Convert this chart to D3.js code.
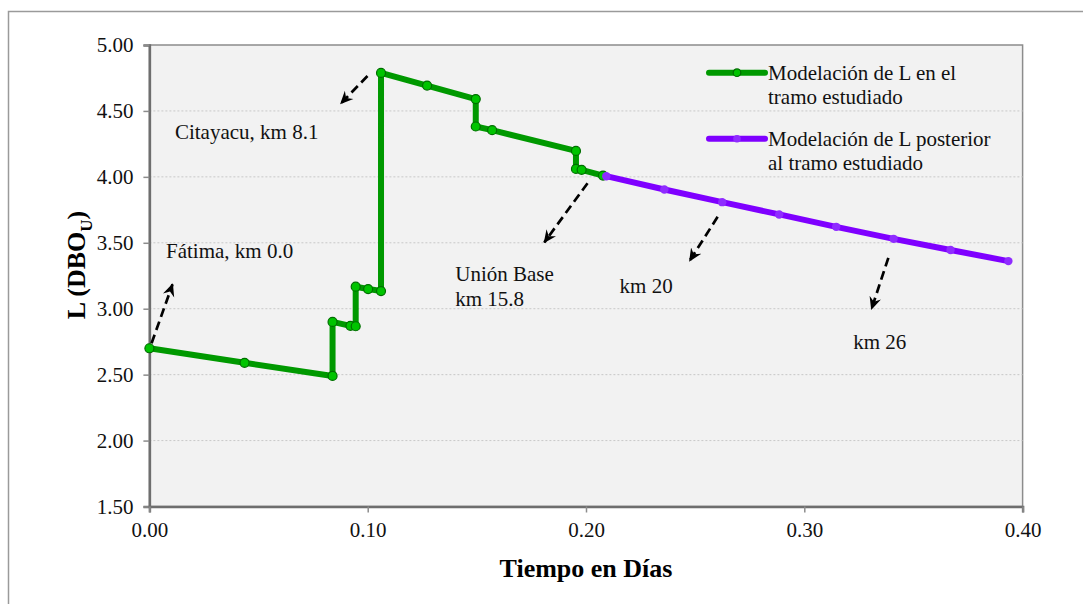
<!DOCTYPE html>
<html lang="es">
<head>
    <meta charset="UTF-8">
    <title>Modelación de L</title>
    <script src="https://d3js.org/d3.v7.min.js"></script>
    <style>
        body { margin: 0; background: #fff; }
        svg text { font-family: "Liberation Serif", "Times New Roman", serif; }
        .grid line { stroke: #c8c8c8; stroke-dasharray: 2,2; }
    </style>
</head>
<body>
    <svg width="1083" height="604"></svg>

    <script>
        // Series: tiempo (días) y L (DBO_U)
        const tramoX = [0.000, 0.0436, 0.0839, 0.0839, 0.0921, 0.0945, 0.0945, 0.1002, 0.1061, 0.1061,
                        0.1272, 0.1495, 0.1495, 0.1570, 0.1954, 0.1954, 0.1980, 0.2078];
        const tramoY = [2.70, 2.59, 2.49, 2.90, 2.87, 2.867, 3.167, 3.149, 3.134, 4.788,
                        4.692, 4.59, 4.382, 4.354, 4.197, 4.06, 4.053, 4.01];
        const posteriorX = [0.2093, 0.2359, 0.2624, 0.2885, 0.3146, 0.3409, 0.3670, 0.3935];
        const posteriorY = [4.005, 3.904, 3.808, 3.715, 3.621, 3.530, 3.445, 3.361];

        const xTicks = [0.00, 0.10, 0.20, 0.30, 0.40];
        const yTicks = [1.50, 2.00, 2.50, 3.00, 3.50, 4.00, 4.50, 5.00];

        // Anotaciones (en unidades de datos)
        const labels = [
            { lines: ["Citayacu, km 8.1"], x: 0.0117, y: 4.29 },
            { lines: ["Fátima, km 0.0"], x: 0.0076, y: 3.387 },
            { lines: ["Unión Base", "km 15.8"], x: 0.1401, y: 3.21 },
            { lines: ["km 20"], x: 0.2154, y: 3.119 },
            { lines: ["km 26"], x: 0.3224, y: 2.695 }
        ];
        const arrows = [
            { x1: 0.0999, y1: 4.765, x2: 0.0877, y2: 4.556 },
            { x1: 0.0010, y1: 2.738, x2: 0.0106, y2: 3.185 },
            { x1: 0.2007, y1: 3.952, x2: 0.1809, y2: 3.503 },
            { x1: 0.2603, y1: 3.697, x2: 0.2475, y2: 3.364 },
            { x1: 0.3385, y1: 3.386, x2: 0.3308, y2: 2.998 }
        ];

        const serif = "Liberation Serif";
        const svg = d3.select("svg");
        const margin = { top: 45, left: 149.4, right: 1022.6, bottom: 506.5 };

        // chart frame
        svg.append("rect")
            .attr("x", 8.5).attr("y", 11.5)
            .attr("width", 1100).attr("height", 620)
            .attr("fill", "#fff").attr("stroke", "#9a9a9a").attr("stroke-width", 1.5);

        const x = d3.scaleLinear().domain([0, 0.4]).range([margin.left, margin.right]);
        const y = d3.scaleLinear().domain([1.5, 5.0]).range([margin.bottom, margin.top]);

        // plot area
        svg.append("rect")
            .attr("x", x(0)).attr("y", y(5))
            .attr("width", x(0.4) - x(0)).attr("height", y(1.5) - y(5))
            .attr("fill", "#f2f2f2").attr("stroke", "#8c8c8c").attr("stroke-width", 1.5);

        // gridlines
        svg.append("g").attr("class", "grid")
            .selectAll("line")
            .data(yTicks.filter(d => d > 1.5 && d < 5))
            .join("line")
            .attr("x1", x(0)).attr("x2", x(0.4))
            .attr("y1", d => y(d)).attr("y2", d => y(d));

        // axes
        const yAxis = svg.append("g")
            .attr("transform", `translate(${x(0)},0)`)
            .call(d3.axisLeft(y).tickValues(yTicks).tickFormat(d3.format(".2f")).tickSize(6).tickPadding(10));
        const xAxis = svg.append("g")
            .attr("transform", `translate(0,${y(1.5)})`)
            .call(d3.axisBottom(x).tickValues(xTicks).tickFormat(d3.format(".2f")).tickSize(6).tickPadding(10));

        [xAxis, yAxis].forEach(a => {
            a.attr("font-family", serif);
            a.select(".domain").attr("stroke", "#6e6e6e").attr("stroke-width", 2.5);
            a.selectAll(".tick line").attr("stroke", "#8c8c8c").attr("stroke-width", 1.5);
            a.selectAll(".tick text")
                .attr("fill", "#111")
                .attr("font-family", serif)
                .attr("font-size", 21);
        });

        // axis titles
        svg.append("text")
            .attr("x", 586).attr("y", 577)
            .attr("text-anchor", "middle")
            .attr("font-family", serif)
            .attr("font-size", 26).attr("font-weight", "bold")
            .text("Tiempo en Días");

        const yTitle = svg.append("text")
            .attr("transform", "translate(85,265) rotate(-90)")
            .attr("text-anchor", "middle")
            .attr("font-family", serif)
            .attr("font-size", 26).attr("font-weight", "bold");
        yTitle.append("tspan").text("L (DBO");
        yTitle.append("tspan").attr("dy", 7).attr("font-size", 17).text("U");
        yTitle.append("tspan").attr("dy", -7).text(")");

        // lines
        const line = d3.line().x(d => x(d[0])).y(d => y(d[1]));
        const tramo = tramoX.map((v, i) => [v, tramoY[i]]);
        const posterior = posteriorX.map((v, i) => [v, posteriorY[i]]);

        svg.append("path").datum(tramo)
            .attr("fill", "none").attr("stroke", "#009900")
            .attr("stroke-width", 6).attr("stroke-linejoin", "round")
            .attr("d", line);
        svg.append("path").datum([tramo[tramo.length - 1], posterior[0]])
            .attr("fill", "none").attr("stroke", "#009900")
            .attr("stroke-width", 6)
            .attr("d", line);
        svg.append("path").datum(posterior)
            .attr("fill", "none").attr("stroke", "#7f00ff")
            .attr("stroke-width", 6).attr("stroke-linejoin", "round")
            .attr("d", line);

        svg.append("g").selectAll("circle").data(tramo).join("circle")
            .attr("cx", d => x(d[0])).attr("cy", d => y(d[1])).attr("r", 4.5)
            .attr("fill", "#00c400").attr("stroke", "#006e00").attr("stroke-width", 1.2);
        svg.append("g").selectAll("circle").data(posterior).join("circle")
            .attr("cx", d => x(d[0])).attr("cy", d => y(d[1])).attr("r", 4.2)
            .attr("fill", "#8f2cff");

        // arrows
        svg.append("defs").append("marker")
            .attr("id", "head")
            .attr("viewBox", "0 0 12 12")
            .attr("markerUnits", "userSpaceOnUse")
            .attr("refX", 11).attr("refY", 6)
            .attr("markerWidth", 13).attr("markerHeight", 13)
            .attr("orient", "auto")
            .append("path").attr("d", "M0,0.5 L12,6 L0,11.5 L4,6 Z").attr("fill", "#000");

        svg.append("g").selectAll("line").data(arrows).join("line")
            .attr("x1", d => x(d.x1)).attr("y1", d => y(d.y1))
            .attr("x2", d => x(d.x2)).attr("y2", d => y(d.y2))
            .attr("stroke", "#000").attr("stroke-width", 2.7)
            .attr("stroke-dasharray", "9,5")
            .attr("marker-end", "url(#head)");

        // labels
        labels.forEach(l => {
            const t = svg.append("text")
                .attr("x", x(l.x)).attr("y", y(l.y))
                .attr("font-family", serif)
                .attr("font-size", 21).attr("fill", "#111");
            l.lines.forEach((s, i) => {
                t.append("tspan").attr("x", x(l.x)).attr("dy", i ? 24.5 : 0).text(s);
            });
        });

        // legend
        const legend = [
            { color: "#009900", dot: "#00c400", stroke: "#006e00", lines: ["Modelación de L en el", "tramo estudiado"] },
            { color: "#7f00ff", dot: "#8f2cff", stroke: "none", lines: ["Modelación de L posterior", "al tramo estudiado"] }
        ];
        legend.forEach((d, i) => {
            const g = svg.append("g").attr("transform", `translate(709,${72.7 + i * 66})`);
            g.append("line").attr("x1", 0).attr("x2", 56)
                .attr("stroke", d.color).attr("stroke-width", 6).attr("stroke-linecap", "round");
            g.append("circle").attr("cx", 28).attr("r", 3.8)
                .attr("fill", d.dot).attr("stroke", d.stroke).attr("stroke-width", 1.2);
            const t = g.append("text").attr("x", 59).attr("y", 7.5)
                .attr("font-family", serif)
                .attr("font-size", 21).attr("fill", "#111");
            d.lines.forEach((s, k) => {
                t.append("tspan").attr("x", 59).attr("dy", k ? 24 : 0).text(s);
            });
        });
    </script>
</body>
</html>
